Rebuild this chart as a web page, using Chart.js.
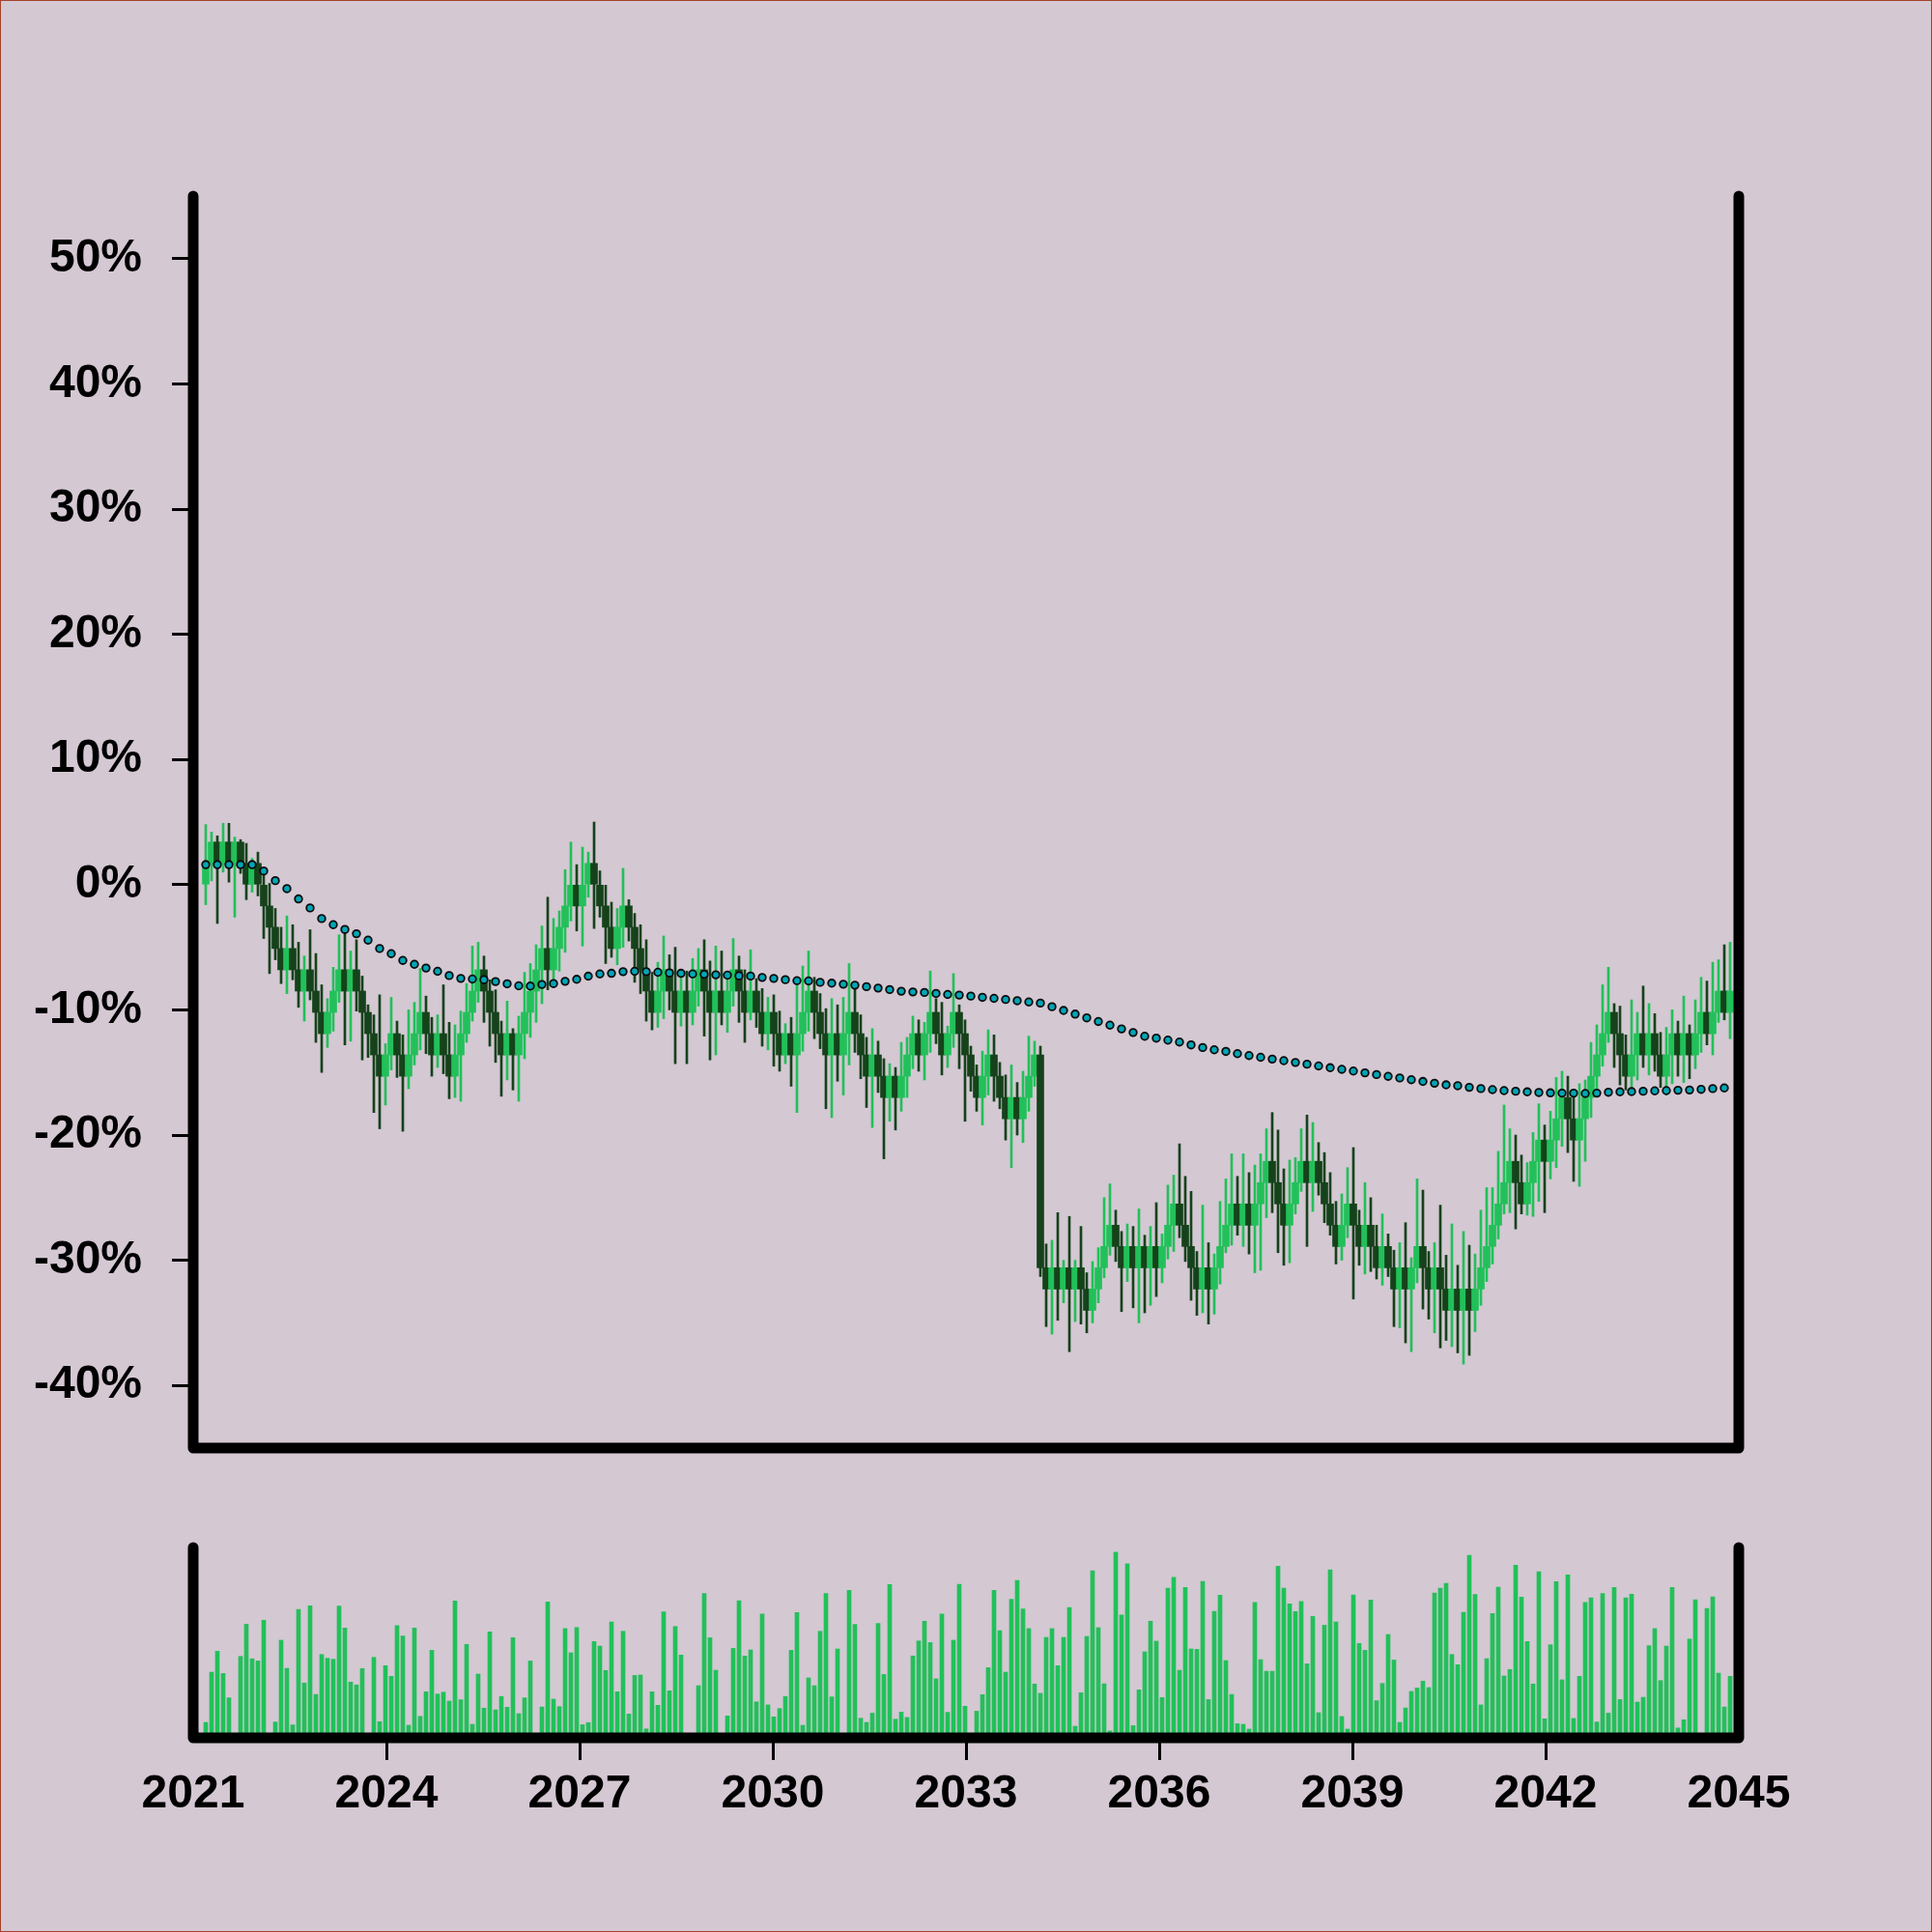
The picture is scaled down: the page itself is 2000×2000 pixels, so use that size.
<!DOCTYPE html>
<html>
<head>
<meta charset="utf-8">
<script src="https://cdn.jsdelivr.net/npm/chart.js@4.4.0/dist/chart.umd.min.js"></script>
<style>
  html, body { margin: 0; padding: 0; background: #d4c8d3; }
  #wrap { position: relative; width: 2000px; height: 2000px; background: #d4c8d3; }
  #wrap canvas { position: absolute; left: 0; top: 0; }
  #frame { position: absolute; left: 0; top: 0; width: 2000px; height: 2000px; box-sizing: border-box;
           border: 1px solid #a3412b; pointer-events: none; }
</style>
</head>
<body>
<div id="wrap">
  <canvas id="price" width="2000" height="2000"></canvas>
  <canvas id="volume" width="2000" height="2000"></canvas>
  <div id="frame"></div>
</div>
<script>
// Sampling grid: first period centre and period length, in years
const t0 = 2021.195;
const dt = 0.09;

const xTicks = [2021, 2024, 2027, 2030, 2033, 2036, 2039, 2042, 2045];
const yTicks = [-40, -30, -20, -10, 0, 10, 20, 30, 40, 50];

// OHLC in percent, one entry per period (264)
const opens = [
  0, 1.7, 3.4, 1.7, 3.4, 1.7, 3.4, 1.7, 0, 1.7, 0, -1.7,
  -3.4, -5.1, -6.8, -5.1, -6.8, -8.5, -6.8, -8.5, -10.2, -11.9, -10.2, -8.5,
  -6.8, -8.5, -6.8, -8.5, -10.2, -11.9, -13.6, -15.3, -13.6, -11.9, -13.6, -15.3,
  -13.6, -11.9, -10.2, -11.9, -13.6, -11.9, -13.6, -15.3, -13.6, -11.9, -10.2, -8.5,
  -6.8, -8.5, -10.2, -11.9, -13.6, -11.9, -13.6, -11.9, -10.2, -8.5, -6.8, -5.1,
  -6.8, -5.1, -3.4, -1.7, 0, -1.7, 0, 1.7, 0, -1.7, -3.4, -5.1,
  -3.4, -1.7, -3.4, -5.1, -6.8, -8.5, -10.2, -8.5, -6.8, -8.5, -10.2, -8.5,
  -10.2, -8.5, -6.8, -8.5, -10.2, -8.5, -10.2, -8.5, -6.8, -8.5, -10.2, -8.5,
  -10.2, -11.9, -10.2, -11.9, -13.6, -11.9, -13.6, -11.9, -10.2, -8.5, -10.2, -11.9,
  -13.6, -11.9, -13.6, -11.9, -10.2, -11.9, -13.6, -15.3, -13.6, -15.3, -17, -15.3,
  -17, -15.3, -13.6, -11.9, -13.6, -11.9, -10.2, -11.9, -13.6, -11.9, -10.2, -11.9,
  -13.6, -15.3, -17, -15.3, -13.6, -15.3, -17, -18.7, -17, -18.7, -17, -15.3,
  -13.6, -30.6, -32.3, -30.6, -32.3, -30.6, -32.3, -30.6, -32.3, -34, -32.3, -30.6,
  -28.9, -27.2, -28.9, -30.6, -28.9, -30.6, -28.9, -30.6, -28.9, -30.6, -28.9, -27.2,
  -25.5, -27.2, -28.9, -30.6, -32.3, -30.6, -32.3, -30.6, -28.9, -27.2, -25.5, -27.2,
  -25.5, -27.2, -25.5, -23.8, -22.1, -23.8, -25.5, -27.2, -25.5, -23.8, -22.1, -23.8,
  -22.1, -23.8, -25.5, -27.2, -28.9, -27.2, -25.5, -27.2, -28.9, -27.2, -28.9, -30.6,
  -28.9, -30.6, -32.3, -30.6, -32.3, -30.6, -28.9, -30.6, -32.3, -30.6, -32.3, -34,
  -32.3, -34, -32.3, -34, -32.3, -30.6, -28.9, -27.2, -25.5, -23.8, -22.1, -23.8,
  -25.5, -23.8, -22.1, -20.4, -22.1, -20.4, -18.7, -17, -18.7, -20.4, -18.7, -17,
  -15.3, -13.6, -11.9, -10.2, -11.9, -13.6, -15.3, -13.6, -11.9, -13.6, -11.9, -13.6,
  -15.3, -13.6, -11.9, -13.6, -11.9, -13.6, -11.9, -10.2, -11.9, -10.2, -8.5, -10.2
];
const closes = [
  1.7, 3.4, 1.7, 3.4, 1.7, 3.4, 1.7, 0, 1.7, 0, -1.7, -3.4,
  -5.1, -6.8, -5.1, -6.8, -8.5, -6.8, -8.5, -10.2, -11.9, -10.2, -8.5, -6.8,
  -8.5, -6.8, -8.5, -10.2, -11.9, -13.6, -15.3, -13.6, -11.9, -13.6, -15.3, -13.6,
  -11.9, -10.2, -11.9, -13.6, -11.9, -13.6, -15.3, -13.6, -11.9, -10.2, -8.5, -6.8,
  -8.5, -10.2, -11.9, -13.6, -11.9, -13.6, -11.9, -10.2, -8.5, -6.8, -5.1, -6.8,
  -5.1, -3.4, -1.7, 0, -1.7, 0, 1.7, 0, -1.7, -3.4, -5.1, -3.4,
  -1.7, -3.4, -5.1, -6.8, -8.5, -10.2, -8.5, -6.8, -8.5, -10.2, -8.5, -10.2,
  -8.5, -6.8, -8.5, -10.2, -8.5, -10.2, -8.5, -6.8, -8.5, -10.2, -8.5, -10.2,
  -11.9, -10.2, -11.9, -13.6, -11.9, -13.6, -11.9, -10.2, -8.5, -10.2, -11.9, -13.6,
  -11.9, -13.6, -11.9, -10.2, -11.9, -13.6, -15.3, -13.6, -15.3, -17, -15.3, -17,
  -15.3, -13.6, -11.9, -13.6, -11.9, -10.2, -11.9, -13.6, -11.9, -10.2, -11.9, -13.6,
  -15.3, -17, -15.3, -13.6, -15.3, -17, -18.7, -17, -18.7, -17, -15.3, -13.6,
  -30.6, -32.3, -30.6, -32.3, -30.6, -32.3, -30.6, -32.3, -34, -32.3, -30.6, -28.9,
  -27.2, -28.9, -30.6, -28.9, -30.6, -28.9, -30.6, -28.9, -30.6, -28.9, -27.2, -25.5,
  -27.2, -28.9, -30.6, -32.3, -30.6, -32.3, -30.6, -28.9, -27.2, -25.5, -27.2, -25.5,
  -27.2, -25.5, -23.8, -22.1, -23.8, -25.5, -27.2, -25.5, -23.8, -22.1, -23.8, -22.1,
  -23.8, -25.5, -27.2, -28.9, -27.2, -25.5, -27.2, -28.9, -27.2, -28.9, -30.6, -28.9,
  -30.6, -32.3, -30.6, -32.3, -30.6, -28.9, -30.6, -32.3, -30.6, -32.3, -34, -32.3,
  -34, -32.3, -34, -32.3, -30.6, -28.9, -27.2, -25.5, -23.8, -22.1, -23.8, -25.5,
  -23.8, -22.1, -20.4, -22.1, -20.4, -18.7, -17, -18.7, -20.4, -18.7, -17, -15.3,
  -13.6, -11.9, -10.2, -11.9, -13.6, -15.3, -13.6, -11.9, -13.6, -11.9, -13.6, -15.3,
  -13.6, -11.9, -13.6, -11.9, -13.6, -11.9, -10.2, -11.9, -10.2, -8.5, -10.2, -8.5
];
const highs = [
  4.8, 4.2, 3.9, 4.9, 4.9, 3.8, 3.6, 3.3, 2.1, 2.6, 1.1, 0.1,
  -1.9, -3.4, -2.5, -3.2, -4.6, -5.7, -3.6, -5.5, -8.0, -9.1, -6.6, -4.0,
  -3.9, -5.3, -4.4, -7.3, -9.6, -10.4, -8.8, -12.7, -9.0, -10.9, -12.0, -10.0,
  -9.4, -6.7, -8.9, -10.6, -10.4, -8.0, -11.0, -11.2, -10.1, -7.9, -4.9, -4.6,
  -5.7, -7.6, -8.4, -10.9, -9.3, -11.5, -10.5, -7.0, -6.3, -4.8, -3.3, -1.0,
  -2.7, -2.1, 1.2, 3.4, 1.6, 3.0, 2.6, 5.0, 1.1, 0.0, -1.4, -1.9,
  1.3, -1.2, -2.3, -3.2, -4.4, -7.0, -6.2, -4.1, -5.6, -5.0, -7.4, -6.9,
  -5.9, -5.1, -4.4, -6.1, -4.9, -5.3, -7.2, -4.3, -5.7, -6.8, -5.2, -7.5,
  -8.3, -9.0, -8.8, -10.1, -11.1, -10.6, -7.8, -6.5, -5.3, -7.4, -8.7, -9.9,
  -9.1, -9.6, -9.0, -6.3, -8.0, -10.4, -12.2, -11.5, -12.5, -13.9, -14.3, -14.6,
  -12.6, -12.2, -10.5, -10.8, -11.0, -6.9, -9.1, -9.4, -11.3, -7.1, -9.6, -10.8,
  -12.9, -14.4, -13.3, -11.6, -12.0, -14.2, -15.2, -14.4, -15.8, -14.9, -12.1, -12.5,
  -12.9, -28.7, -28.4, -26.2, -30.0, -26.5, -30.0, -27.3, -31.0, -30.1, -29.0, -25.0,
  -23.9, -26.0, -27.7, -27.1, -27.3, -25.9, -28.0, -27.3, -25.4, -27.9, -24.0, -23.2,
  -20.7, -23.3, -24.5, -29.3, -25.6, -28.6, -29.5, -25.3, -23.5, -21.5, -23.3, -21.5,
  -23.0, -22.4, -21.5, -19.5, -18.2, -19.6, -22.7, -22.0, -21.8, -19.5, -18.4, -19.0,
  -20.6, -21.4, -23.0, -25.3, -24.7, -22.6, -21.0, -26.0, -23.8, -25.0, -27.2, -26.3,
  -27.9, -29.2, -28.6, -27.0, -29.8, -23.5, -24.4, -29.3, -28.6, -25.6, -29.6, -27.1,
  -30.4, -27.7, -28.8, -29.5, -26.0, -24.2, -24.2, -21.3, -17.6, -19.5, -20.0, -21.6,
  -22.2, -19.8, -17.5, -19.2, -18.1, -15.4, -14.9, -15.3, -16.4, -15.9, -15.6, -12.6,
  -11.2, -8.0, -6.6, -9.5, -9.7, -12.0, -9.2, -10.2, -8.1, -9.5, -10.3, -11.8,
  -11.4, -10.0, -10.9, -8.9, -11.2, -9.2, -7.4, -7.7, -6.2, -6.0, -4.8, -4.6
];
const lows = [
  -1.6, 0.3, -3.1, 1.0, 0.2, -2.6, 0.9, -1.2, -0.6, -0.9, -4.3, -7.1,
  -6.0, -7.9, -8.7, -7.6, -9.8, -10.9, -9.2, -12.6, -15.0, -13.0, -11.7, -9.4,
  -12.8, -12.5, -10.1, -14.0, -13.8, -18.2, -19.5, -17.6, -14.8, -15.4, -19.7, -16.3,
  -14.4, -13.2, -13.5, -15.3, -14.6, -15.1, -17.1, -17.0, -17.3, -12.6, -10.9, -9.4,
  -11.0, -12.9, -14.2, -16.9, -15.6, -16.4, -17.3, -13.9, -12.2, -11.0, -9.5, -8.4,
  -7.8, -6.9, -5.4, -2.9, -3.7, -4.9, -1.0, -3.5, -2.6, -6.3, -5.8, -6.4,
  -5.0, -4.5, -7.8, -8.7, -10.9, -11.6, -11.4, -10.7, -10.0, -14.3, -11.3, -14.3,
  -11.2, -9.7, -12.1, -14.0, -13.6, -11.2, -11.8, -9.7, -11.0, -12.6, -10.8, -11.4,
  -12.9, -13.2, -14.5, -14.9, -14.3, -16.1, -18.2, -13.3, -11.7, -12.3, -13.1, -17.9,
  -18.6, -15.7, -16.8, -14.4, -13.4, -15.5, -17.8, -19.4, -16.6, -21.9, -18.9, -19.6,
  -18.1, -17.0, -14.7, -14.9, -15.6, -13.4, -12.7, -15.2, -14.6, -13.0, -14.7, -18.9,
  -16.5, -18.1, -19.2, -16.8, -17.3, -17.9, -20.4, -22.6, -20.0, -20.6, -18.1, -16.1,
  -31.3, -35.3, -35.9, -34.8, -33.4, -37.3, -34.9, -35.1, -35.8, -35.0, -33.4, -31.4,
  -29.6, -30.1, -34.1, -31.7, -33.8, -35.0, -34.2, -33.6, -32.9, -31.8, -29.9, -29.3,
  -28.2, -30.1, -33.2, -34.4, -34.2, -35.1, -34.3, -31.9, -29.4, -28.8, -28.0, -28.9,
  -29.5, -31.0, -30.8, -26.6, -26.2, -29.4, -30.4, -30.2, -26.3, -24.5, -28.9, -26.1,
  -24.8, -27.0, -28.0, -30.3, -30.0, -28.2, -33.1, -30.4, -31.1, -30.9, -31.5, -32.0,
  -31.3, -35.3, -35.4, -36.6, -37.3, -31.8, -33.9, -34.7, -35.8, -37.0, -36.4, -36.9,
  -37.4, -38.3, -37.6, -35.7, -33.6, -31.7, -30.3, -28.3, -26.3, -26.2, -27.5, -26.3,
  -26.4, -26.5, -25.3, -26.2, -23.5, -22.6, -20.9, -21.4, -23.7, -24.1, -22.1, -18.6,
  -16.8, -14.5, -12.6, -14.6, -16.0, -16.4, -16.4, -15.6, -14.6, -15.2, -14.9, -16.2,
  -16.8, -15.9, -15.3, -15.8, -15.5, -14.7, -13.4, -12.8, -13.6, -11.0, -10.8, -12.3
];
// Volume, relative units (panel top = 100)
const volumes = [
  8.1, 34.5, 45.5, 33.8, 21.0, 0, 42.8, 59.7, 41.5, 40.4, 61.8, 1,
  8.3, 51.3, 36.5, 6.8, 67.5, 28.8, 69.4, 22.8, 43.8, 41.8, 41.3, 69.2,
  57.7, 29.3, 27.8, 36.4, 0, 42.3, 8.5, 37.9, 32.3, 59.0, 53.5, 6.6,
  57.7, 11.3, 24.2, 46.0, 23.0, 24.0, 19.3, 71.9, 20.0, 49.1, 7.1, 33.5,
  15.6, 55.7, 14.7, 21.7, 16.1, 52.6, 12.7, 21.0, 40.4, 0, 16.2, 71.4,
  20.3, 16.4, 57.4, 44.7, 58.0, 6.9, 8.0, 50.6, 48.2, 35.4, 60.9, 24.2,
  56.0, 12.5, 32.8, 33.0, 4.7, 24.2, 17.1, 66.2, 24.7, 58.5, 43.5, 0,
  0.5, 27.4, 75.8, 52.6, 35.5, 0.5, 11.5, 47.0, 72.1, 43.0, 46.2, 18.9,
  65.1, 17.3, 11.0, 15.4, 21.7, 46.0, 65.8, 6.6, 31.5, 27.4, 56.0, 75.8,
  21.5, 46.7, 0, 77.5, 59.6, 10.3, 8.1, 13.0, 60.1, 33.3, 80.5, 9.8,
  13.5, 10.7, 43.0, 50.9, 61.3, 50.1, 31.0, 65.0, 13.4, 51.3, 80.7, 16.6,
  0, 14.0, 22.7, 36.9, 77.5, 56.3, 34.5, 72.8, 82.7, 67.7, 57.4, 28.3,
  23.4, 52.8, 57.4, 37.9, 52.8, 68.5, 6.1, 23.7, 53.3, 87.8, 57.9, 28.4,
  3.6, 97.5, 64.5, 91.4, 6.4, 25.2, 45.2, 61.3, 50.8, 21.2, 78.7, 84.3,
  35.5, 79.0, 46.7, 46.5, 82.2, 20.1, 66.5, 75.0, 40.6, 22.8, 7.4, 7.1,
  4.6, 71.1, 41.1, 35.0, 35.0, 90.2, 78.7, 70.4, 66.3, 71.6, 38.9, 63.8,
  13.2, 59.2, 88.3, 60.9, 11.2, 4.6, 75.1, 49.6, 46.0, 72.4, 19.5, 28.6,
  54.3, 40.9, 8.1, 15.7, 24.4, 26.2, 29.8, 26.4, 76.1, 78.7, 81.2, 43.8,
  38.4, 66.0, 95.9, 75.3, 17.3, 41.6, 65.3, 79.2, 32.5, 35.9, 90.7, 73.9,
  50.6, 28.3, 87.3, 10.0, 48.9, 82.1, 30.5, 85.6, 10.2, 32.3, 71.2, 73.6,
  8.3, 75.8, 13.0, 79.0, 20.1, 73.6, 75.5, 18.8, 21.3, 48.4, 57.4, 30.1,
  48.2, 79.0, 5.2, 9.5, 51.9, 72.6, 0, 68.0, 74.1, 34.0, 16.2, 32.3
];
// Running average, drawn on every second period (132 points)
const avgLine = [
  1.60, 1.60, 1.60, 1.60, 1.60, 1.09, 0.32, -0.32, -1.14, -1.86, -2.71, -3.20,
  -3.58, -3.92, -4.43, -5.10, -5.51, -6.05, -6.36, -6.66, -6.92, -7.26, -7.49, -7.54,
  -7.59, -7.74, -7.92, -8.08, -8.10, -7.97, -7.90, -7.72, -7.56, -7.31, -7.13, -7.08,
  -6.95, -6.92, -6.95, -7.00, -7.05, -7.08, -7.13, -7.16, -7.20, -7.23, -7.28, -7.30,
  -7.41, -7.49, -7.59, -7.67, -7.69, -7.80, -7.87, -7.95, -8.03, -8.15, -8.26, -8.38,
  -8.51, -8.57, -8.61, -8.69, -8.77, -8.82, -8.90, -9.00, -9.08, -9.17, -9.27, -9.37,
  -9.46, -9.75, -10.05, -10.34, -10.64, -10.93, -11.22, -11.52, -11.81, -12.11, -12.26, -12.42,
  -12.57, -12.80, -13.01, -13.19, -13.32, -13.50, -13.65, -13.79, -13.93, -14.06, -14.20, -14.34,
  -14.48, -14.62, -14.75, -14.89, -15.03, -15.17, -15.31, -15.44, -15.58, -15.72, -15.86, -15.99,
  -16.06, -16.19, -16.29, -16.37, -16.45, -16.50, -16.55, -16.60, -16.63, -16.65, -16.65, -16.68,
  -16.65, -16.58, -16.55, -16.53, -16.50, -16.47, -16.45, -16.42, -16.40, -16.35, -16.29, -16.24
];

const UP = '#22c05a';
const DOWN = '#15421a';

Chart.defaults.font.family = '"Liberation Sans", Arial, sans-serif';
Chart.defaults.font.weight = 'bold';
Chart.defaults.color = '#000';

const xAt = (i) => t0 + i * dt;
const colors = closes.map((c, i) => (c >= opens[i] ? UP : DOWN));
const bodies = closes.map((c, i) => ({ x: xAt(i), y: [opens[i], c] }));
const wicks = highs.map((h, i) => ({ x: xAt(i), y: [lows[i], h] }));
const avgPts = avgLine.map((v, j) => ({ x: xAt(2 * j), y: v }));
const volPts = volumes.map((v, i) => ({ x: xAt(i), y: v }));

// thick black frame with round ends, like the original spines
const spines = {
  id: 'spines',
  afterDraw(chart) {
    const { ctx, chartArea: a } = chart;
    ctx.save();
    ctx.strokeStyle = '#000';
    ctx.lineWidth = 11;
    ctx.lineCap = 'round';
    ctx.lineJoin = 'round';
    ctx.beginPath();
    ctx.moveTo(a.left, a.top);
    ctx.lineTo(a.left, a.bottom);
    ctx.lineTo(a.right, a.bottom);
    ctx.lineTo(a.right, a.top);
    ctx.stroke();
    ctx.restore();
  }
};

const hideEnds = (n) => (c) => (c.index === 0 || c.index === n - 1 ? 'rgba(0,0,0,0)' : '#000');

new Chart(document.getElementById('price'), {
  type: 'bar',
  data: {
    datasets: [
      { type: 'line', data: avgPts, showLine: false, pointRadius: 3.8, pointHoverRadius: 3.8,
        pointBackgroundColor: '#00a6b6', pointBorderColor: '#0b0b0b', pointBorderWidth: 1.8, order: 0 },
      { data: bodies, backgroundColor: colors, barThickness: 7, grouped: false, order: 1 },
      { data: wicks, backgroundColor: colors, barThickness: 2, grouped: false, order: 2 }
    ]
  },
  options: {
    responsive: false,
    animation: false,
    devicePixelRatio: 1,
    layout: { padding: { left: 0, right: 200, top: 203, bottom: 501 } },
    plugins: { legend: { display: false }, tooltip: { enabled: false } },
    scales: {
      x: { type: 'linear', min: 2021, max: 2045, display: false, offset: false, grid: { offset: false } },
      y: {
        min: -45, max: 55,
        afterFit(s) { s.width = 200; },
        afterBuildTicks(s) { s.ticks = yTicks.map((v) => ({ value: v })); },
        ticks: { callback: (v) => v + '%', font: { size: 48, weight: 'bold' }, padding: 31, color: '#000' },
        grid: { drawOnChartArea: false, tickLength: 22, tickWidth: 3, tickColor: '#000' },
        border: { display: false }
      }
    }
  },
  plugins: [spines]
});

new Chart(document.getElementById('volume'), {
  type: 'bar',
  data: { datasets: [{ data: volPts, backgroundColor: UP, barThickness: 4 }] },
  options: {
    responsive: false,
    animation: false,
    devicePixelRatio: 1,
    layout: { padding: { left: 200, right: 200, top: 1602, bottom: 0 } },
    plugins: { legend: { display: false }, tooltip: { enabled: false } },
    scales: {
      x: {
        type: 'linear', min: 2021, max: 2045, offset: false,
        afterFit(s) { s.height = 201; },
        afterBuildTicks(s) { s.ticks = xTicks.map((v) => ({ value: v })); },
        ticks: { callback: (v) => String(v), autoSkip: false, maxRotation: 0,
                 font: { size: 48, weight: 'bold' }, padding: 7, color: '#000' },
        grid: { offset: false, drawOnChartArea: false, tickLength: 23, tickWidth: 3,
                tickColor: hideEnds(xTicks.length) },
        border: { display: false }
      },
      y: { min: 0, max: 100, display: false }
    }
  },
  plugins: [spines]
});
</script>
</body>
</html>
